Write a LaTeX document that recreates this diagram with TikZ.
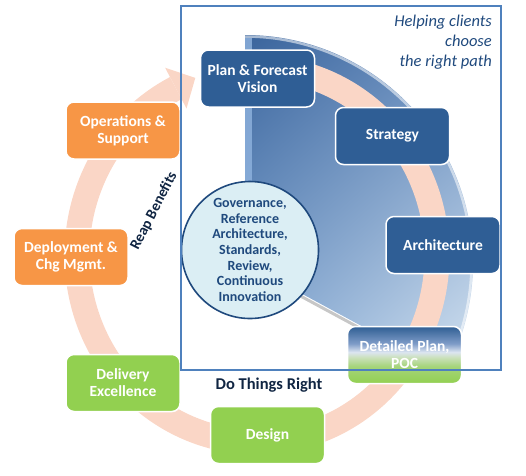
\documentclass[tikz,border=0pt]{standalone}
\usepackage{fontspec}
\setmainfont{Carlito}
\usetikzlibrary{shadings}
\definecolor{boxblue}{RGB}{47,94,149}
\definecolor{boxorange}{RGB}{247,150,70}
\definecolor{boxgreen}{RGB}{146,208,80}
\definecolor{ringcol}{RGB}{250,214,198}
\definecolor{framecol}{RGB}{79,129,189}
\definecolor{circfill}{RGB}{219,238,244}
\definecolor{circline}{RGB}{31,73,125}
\definecolor{txtblue}{RGB}{31,73,125}
\definecolor{navy}{RGB}{16,37,66}
\definecolor{dpblue}{RGB}{47,94,147}
\definecolor{dpmid}{RGB}{127,156,200}
\definecolor{dplight}{RGB}{220,229,240}
\definecolor{dpgl}{RGB}{201,224,184}
\definecolor{dpg2}{RGB}{165,212,122}
\definecolor{pieA}{RGB}{58,100,156}
\definecolor{pieB}{RGB}{105,143,192}
\definecolor{pieC}{RGB}{140,175,216}
\definecolor{pieD}{RGB}{212,227,241}
\definecolor{pieEdge}{RGB}{140,176,220}
\pgfdeclareverticalshading{dpshade}{100bp}{color(0bp)=(boxgreen); color(25bp)=(boxgreen); color(40bp)=(dpg2); color(47.5bp)=(dpgl); color(52.5bp)=(dplight); color(60bp)=(dpmid); color(75bp)=(dpblue); color(100bp)=(dpblue)}
\begin{document}
\begin{tikzpicture}[x=1pt,y=-1pt,
  box/.style={draw=white, line width=1.5pt, rounded corners=8pt, minimum width=114pt, minimum height=57pt, text=white, font=\bfseries\fontsize{15.5}{17}\selectfont, align=center, inner sep=0pt},
  bluebox/.style={box, fill=boxblue},
  orangebox/.style={box, fill=boxorange},
  greenbox/.style={box, fill=boxgreen},
  dpbox/.style={box, shade, shading=dpshade},
  hub/.style={circle, draw=circline, line width=1.6pt, fill=circfill, minimum size=137pt, inner sep=0pt, text=txtblue, align=center, font=\bfseries\fontsize{14}{15.7}\selectfont},
  lbl/.style={inner sep=0pt, align=center}]
\useasboundingbox (0,0) rectangle (526,475);
% pie
\coordinate (pc) at (245,263);
\shade[upper left=pieA, upper right=pieB, lower left=pieC, lower right=pieD]
  (pc) -- (245,35) arc[start angle=-90, end angle=28.4, radius=228] -- cycle;
\fill[pieEdge, opacity=0.85] (245,38) rectangle (252,262);
\draw[white, opacity=0.55, line width=2.5pt] (245,36.5) arc[start angle=-90, end angle=28.4, radius=226.5];
\draw[black, opacity=0.22, line width=3pt] (pc) ++(0,3) -- ++(28.4:200);
% ring
\draw[ringcol, line width=25pt] (257,255) ++(-100:180 and 187) arc[start angle=-100, end angle=243.2, x radius=180, y radius=187];
\fill[ringcol] (165.1,67.7) -- (195.3,77.9) -- (186.5,108.5) -- cycle;
% hub
\node[hub] (hub) at (250,250) {Governance,\\Reference\\Architecture,\\Standards,\\Review,\\Continuous\\Innovation};
% boxes
\node[bluebox] (plan) at (257.5,78.5) {Plan \& Forecast\\Vision};
\node[bluebox] (strat) at (392.5,136) {Strategy};
\node[bluebox] (arch) at (443,245) {Architecture};
\node[dpbox] (dp) at (404.5,355) {Detailed Plan,\\POC};
\node[orangebox] (ops) at (123,130.5) {Operations \&\\Support};
\node[orangebox] (dep) at (71,257) {Deployment \&\\Chg Mgmt.};
\node[greenbox] (del) at (123,383) {Delivery\\Excellence};
\node[greenbox] (des) at (267.5,435) {Design};
% frame
\draw[framecol, line width=2pt] (181,6) rectangle (500.5,370);
% labels
\node[lbl, anchor=north east, align=right, text=txtblue, font=\itshape\fontsize{16.5}{20}\selectfont] (help) at (492,15) {Helping clients\\choose\\the right path};
\node[lbl, text=navy, font=\bfseries\fontsize{16.5}{19}\selectfont] (dtr) at (269,385) {Do Things Right};
\node[lbl, rotate=63, text=navy, font=\bfseries\fontsize{15}{18}\selectfont] (reap) at (154,211) {Reap Benefits};
\end{tikzpicture}
\end{document}
